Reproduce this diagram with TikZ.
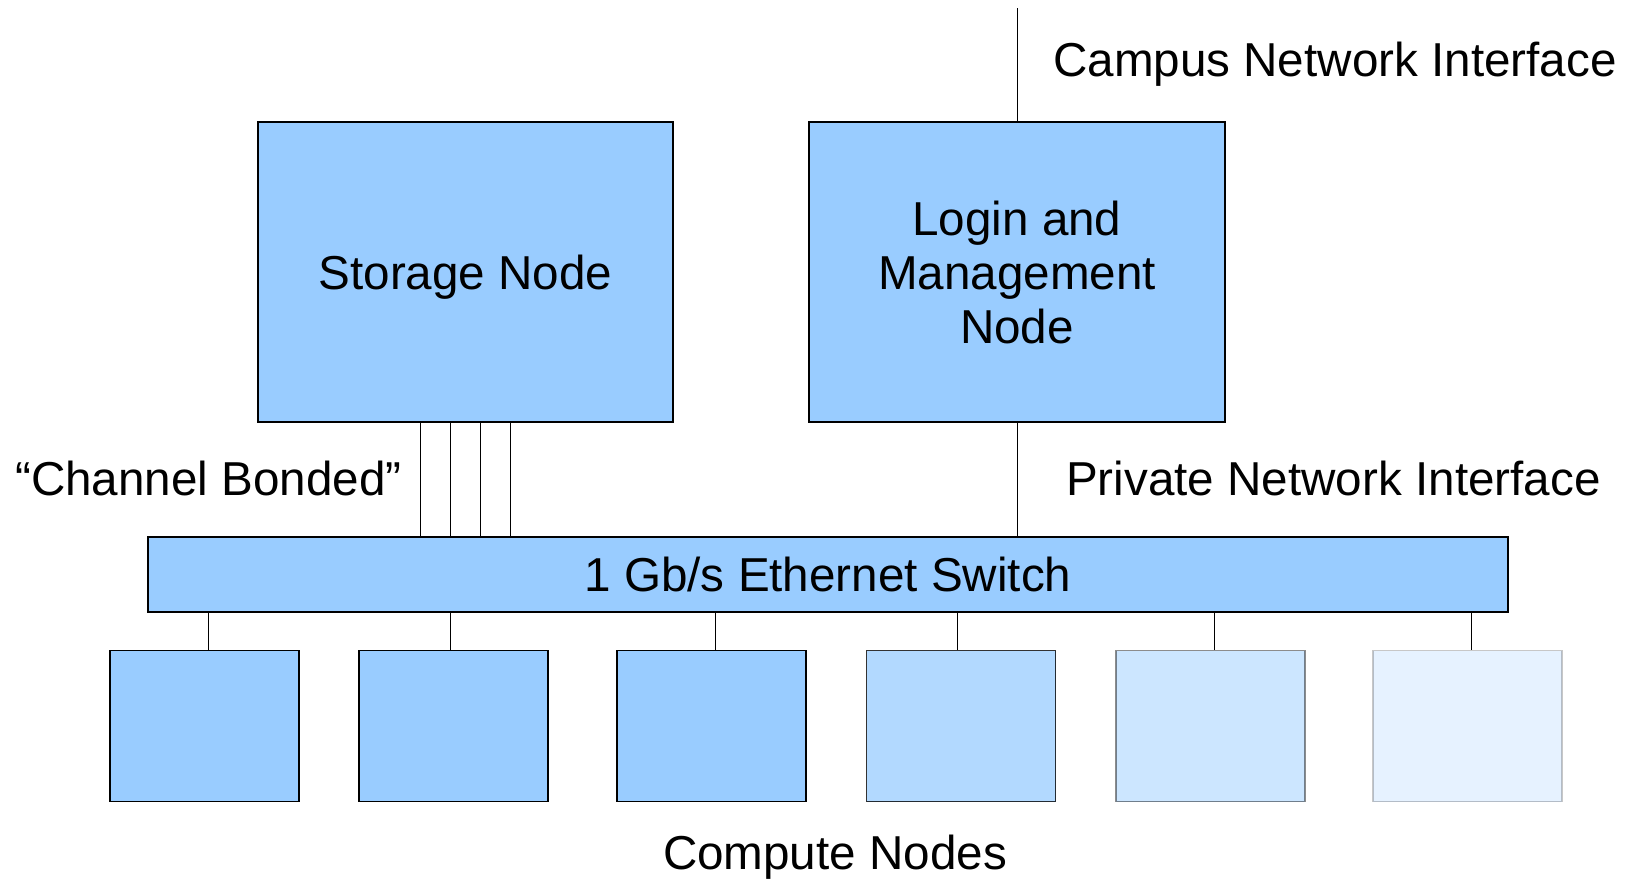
\documentclass[tikz,border=0pt]{standalone}
\usepackage{fontspec}
\setmainfont{Liberation Sans}
\begin{document}
\begin{tikzpicture}[x=1pt,y=-1pt,
  box/.style={draw=black, line width=1.3pt, fill=boxblue, inner sep=0pt, anchor=center, align=center},
  wire/.style={draw=black, line width=1pt},
  lbl/.style={inner sep=0pt, anchor=center},
  every node/.style={font=\fontsize{47.6}{54}\selectfont}]
\definecolor{boxblue}{HTML}{99CCFF}
\useasboundingbox (0,0) rectangle (1631,879);
% main boxes
\node[box, minimum width=415pt, minimum height=300pt, text depth=0pt] (storage) at (465.5,272) {Storage Node};
\node[box, minimum width=416pt, minimum height=300pt] (login) at (1017,272) {Login and\\Management\\Node};
\node[box, minimum width=1360pt, minimum height=75pt] (switch) at (828,574.5) {1 Gb/s Ethernet Switch};
% labels
\node[lbl, anchor=west] (campus) at (1053,64) {Campus Network Interface};
\node[lbl, anchor=west] (private) at (1066,478) {Private Network Interface};
\node[lbl, anchor=west] (bond) at (15,478) {“Channel Bonded”};
\node[lbl] (compute) at (835,857) {Compute Nodes};
\coordinate (campustop) at (1017,8);
% compute nodes
\node[box, minimum width=189pt, minimum height=151pt] (c1) at (204.5,726) {};
\node[box, minimum width=189pt, minimum height=151pt] (c2) at (453.5,726) {};
\node[box, minimum width=189pt, minimum height=151pt] (c3) at (711.5,726) {};
\node[box, minimum width=189pt, minimum height=151pt, fill=boxblue!75, draw opacity=0.8] (c4) at (961,726) {};
\node[box, minimum width=189pt, minimum height=151pt, fill=boxblue!50, draw opacity=0.45] (c5) at (1210.5,726) {};
\node[box, minimum width=189pt, minimum height=151pt, fill=boxblue!25, draw opacity=0.22] (c6) at (1467.5,726) {};
% connectors
\draw[wire] (login.north) -- (campustop);
\draw[wire] (login.south) -- (switch.north -| login.south);
\foreach \dx in {-45.5,-15.5,14.5,45}{
  \draw[wire] ([xshift=\dx pt]storage.south) -- ([xshift=\dx pt]storage.south |- switch.north);
}
\draw[wire] ([xshift=3.5pt]c1.north) -- ([xshift=3.5pt]c1.north |- switch.south);
\draw[wire] ([xshift=-3.5pt]c2.north) -- ([xshift=-3.5pt]c2.north |- switch.south);
\draw[wire] ([xshift=3.5pt]c3.north) -- ([xshift=3.5pt]c3.north |- switch.south);
\draw[wire] ([xshift=-4pt]c4.north) -- ([xshift=-4pt]c4.north |- switch.south);
\draw[wire] ([xshift=3.5pt]c5.north) -- ([xshift=3.5pt]c5.north |- switch.south);
\draw[wire] ([xshift=3.5pt]c6.north) -- ([xshift=3.5pt]c6.north |- switch.south);
\end{tikzpicture}
\end{document}
